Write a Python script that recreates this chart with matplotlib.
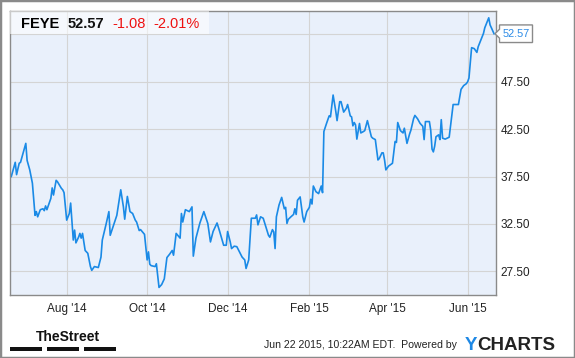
import datetime as dt
import matplotlib
matplotlib.use("Agg")
import matplotlib.pyplot as plt
import matplotlib.dates as mdates
from matplotlib.patches import Rectangle, Polygon

plt.rcParams['font.family'] = ['Liberation Sans', 'DejaVu Sans']

# FEYE daily closes
dates = [
    '2014-06-20', '2014-06-23', '2014-06-24', '2014-06-26', '2014-06-27',
    '2014-07-01', '2014-07-02', '2014-07-04', '2014-07-06', '2014-07-08', '2014-07-09', '2014-07-10',
    '2014-07-12', '2014-07-14', '2014-07-15', '2014-07-16', '2014-07-17', '2014-07-20', '2014-07-21',
    '2014-07-22', '2014-07-24', '2014-07-25', '2014-07-28', '2014-07-29', '2014-07-30',
    '2014-08-01', '2014-08-03', '2014-08-04', '2014-08-06', '2014-08-07', '2014-08-08', '2014-08-10',
    '2014-08-11', '2014-08-12', '2014-08-13', '2014-08-15', '2014-08-17', '2014-08-19', '2014-08-20',
    '2014-08-22', '2014-08-25', '2014-08-27', '2014-08-28', '2014-08-31',
    '2014-09-02', '2014-09-03', '2014-09-06', '2014-09-08', '2014-09-11', '2014-09-13', '2014-09-14',
    '2014-09-16', '2014-09-18', '2014-09-20', '2014-09-22', '2014-09-23', '2014-09-25', '2014-09-26',
    '2014-09-29', '2014-09-30',
    '2014-10-01', '2014-10-02', '2014-10-03', '2014-10-04', '2014-10-07', '2014-10-08', '2014-10-10',
    '2014-10-12', '2014-10-14', '2014-10-16', '2014-10-18', '2014-10-20', '2014-10-21', '2014-10-23',
    '2014-10-26', '2014-10-27', '2014-10-28', '2014-10-30',
    '2014-11-02', '2014-11-04', '2014-11-05', '2014-11-07', '2014-11-10', '2014-11-13', '2014-11-16',
    '2014-11-18', '2014-11-20', '2014-11-23', '2014-11-25', '2014-11-28', '2014-11-30',
    '2014-12-01', '2014-12-03', '2014-12-04', '2014-12-06', '2014-12-08', '2014-12-10', '2014-12-12',
    '2014-12-14', '2014-12-15', '2014-12-17', '2014-12-19', '2014-12-22', '2014-12-23', '2014-12-24',
    '2014-12-26', '2014-12-28', '2014-12-30',
    '2015-01-01', '2015-01-02', '2015-01-04', '2015-01-05', '2015-01-06', '2015-01-07', '2015-01-09',
    '2015-01-11', '2015-01-13', '2015-01-14', '2015-01-15', '2015-01-16', '2015-01-18', '2015-01-20',
    '2015-01-21', '2015-01-22', '2015-01-23', '2015-01-25', '2015-01-27', '2015-01-28', '2015-01-30',
    '2015-02-01', '2015-02-02', '2015-02-03', '2015-02-04', '2015-02-06', '2015-02-08', '2015-02-10',
    '2015-02-11', '2015-02-12', '2015-02-14', '2015-02-16', '2015-02-17', '2015-02-19', '2015-02-21',
    '2015-02-22', '2015-02-24', '2015-02-25', '2015-02-27',
    '2015-03-01', '2015-03-02', '2015-03-04', '2015-03-05', '2015-03-06', '2015-03-07', '2015-03-08',
    '2015-03-09', '2015-03-11', '2015-03-12', '2015-03-14', '2015-03-15', '2015-03-17', '2015-03-20',
    '2015-03-21', '2015-03-23', '2015-03-25', '2015-03-26', '2015-03-28', '2015-03-29', '2015-03-30',
    '2015-03-31',
    '2015-04-02', '2015-04-05', '2015-04-07', '2015-04-08', '2015-04-09', '2015-04-11', '2015-04-13',
    '2015-04-14', '2015-04-16', '2015-04-18', '2015-04-19', '2015-04-21', '2015-04-22', '2015-04-24',
    '2015-04-26', '2015-04-28', '2015-04-29', '2015-04-30',
    '2015-05-03', '2015-05-04', '2015-05-05', '2015-05-06', '2015-05-07', '2015-05-08', '2015-05-10',
    '2015-05-11', '2015-05-12', '2015-05-13', '2015-05-15', '2015-05-18', '2015-05-19', '2015-05-21',
    '2015-05-24', '2015-05-25', '2015-05-27', '2015-05-28', '2015-05-29', '2015-05-31',
    '2015-06-01', '2015-06-02', '2015-06-04', '2015-06-06', '2015-06-08', '2015-06-09', '2015-06-11',
    '2015-06-13', '2015-06-14', '2015-06-17', '2015-06-18', '2015-06-19', '2015-06-21',
]
prices = [
    37.5, 39.0, 37.7, 38.9, 39.0,
    41.0, 39.2, 38.2, 36.8, 33.4, 33.8, 33.25, 34.0, 34.1, 33.9, 34.4, 34.0, 35.2, 36.3,
    35.55, 37.1, 36.95, 36.25, 36.1, 35.8,
    32.9, 33.6, 34.7, 30.8, 31.85, 30.5, 31.1, 31.5, 31.0, 31.5, 29.7, 29.4, 28.0, 27.6,
    28.0, 27.9, 29.0, 30.8, 32.55,
    33.8, 31.3, 32.55, 33.4, 36.1, 34.3, 33.0, 35.4, 33.8, 33.6, 32.9, 32.7, 31.8, 31.9,
    31.4, 30.1,
    28.7, 29.55, 28.25, 28.1, 28.0, 28.3, 25.8, 26.1, 26.7, 28.95, 29.3, 29.7, 29.2, 31.5,
    31.0, 33.6, 32.7, 34.0,
    33.8, 34.3, 29.1, 31.0, 32.6, 33.8, 32.55, 30.6, 31.7, 32.6, 31.7, 30.25, 30.25,
    31.7, 30.6, 29.9, 30.15, 30.1, 29.55, 29.0, 28.7, 27.8, 28.7, 33.1, 33.1, 33.45, 32.4,
    33.25, 33.1, 32.2,
    31.3, 31.1, 31.9, 31.65, 29.9, 33.25, 34.5, 35.3, 34.1, 34.25, 32.55, 32.98, 33.25, 33.5,
    34.1, 33.5, 35.0, 35.35, 33.25, 32.7, 33.8,
    34.25, 35.1, 34.6, 36.5, 35.9, 35.7, 36.5, 35.8, 42.25, 43.1, 43.9, 43.8, 46.1, 44.4,
    43.4, 45.4, 45.4, 44.3,
    44.7, 45.1, 43.9, 43.8, 42.85, 43.2, 42.95, 41.45, 43.1, 42.1, 42.25, 42.35, 43.4, 41.7,
    41.55, 41.4, 39.25, 39.4, 40.0, 40.0, 39.25, 38.2,
    38.6, 38.9, 41.2, 41.1, 43.2, 42.35, 42.1, 42.6, 41.0, 42.0, 42.4, 43.6, 43.95, 43.6,
    43.1, 42.8, 41.4, 43.3,
    43.3, 42.4, 40.4, 40.1, 40.7, 41.7, 41.9, 41.4, 43.5, 41.55, 41.45, 41.65, 42.8, 45.1,
    45.1, 45.1, 46.7, 46.9, 47.1, 47.3,
    47.5, 47.9, 51.1, 51.0, 50.6, 51.2, 51.9, 52.6, 53.2, 54.25, 53.5, 53.2, 52.57,
]
ticker = 'FEYE'
last_price = 52.57
change = -1.08
change_pct = -2.01
y_ticks = [27.5, 32.5, 37.5, 42.5, 47.5, 52.5]
x_ticks = ['2014-08-01', '2014-10-01', '2014-12-01', '2015-02-01', '2015-04-01', '2015-06-01']

W, H = 575, 358
fig = plt.figure(figsize=(W / 100, H / 100), dpi=100)
fig.patch.set_facecolor('white')

def px(x, y):
    # pixel from top-left -> figure fraction
    return x / W, 1 - y / H

ax = fig.add_axes([10.3 / W, 1 - 295 / H, (496 - 10.3) / W, (295 - 10.7) / H])
ax.set_facecolor('#e9f0fb')

d = [dt.datetime.strptime(s, '%Y-%m-%d') for s in dates]
ax.plot(d, prices, color='#1a8ae6', lw=1.2, zorder=2, solid_joinstyle='round')

ax.set_xlim(dt.datetime(2014, 6, 19, 6), dt.datetime(2015, 6, 22, 12))
ax.set_ylim(25, 55)

ax.set_xticks([dt.datetime.strptime(s, '%Y-%m-%d') for s in x_ticks])
ax.xaxis.set_major_formatter(mdates.DateFormatter("%b '%y"))
ax.set_yticks(y_ticks)
# top label sits under the last-price callout
ax.set_yticklabels(['%.2f' % v if v < 52 else '' for v in y_ticks])
ax.yaxis.tick_right()
ax.tick_params(axis='x', length=0, pad=6, labelsize=8.5, colors='#222222')
ax.tick_params(axis='y', length=0, pad=3.5, labelsize=8.5, colors='#222222')
ax.grid(True, color='#d4d4d4', lw=0.8, zorder=1)
ax.set_axisbelow(True)
for s in ax.spines.values():
    s.set_color('#8a8a8a')
    s.set_linewidth(1.0)

# header box
ax.add_patch(Rectangle((0, (295 - 33.5) / (295 - 10.7)), (209 - 10.3) / (496 - 10.3),
                       1 - (295 - 33.5) / (295 - 10.7), transform=ax.transAxes,
                       facecolor='white', alpha=0.55, lw=0, zorder=3))
hy = px(0, 28.5)[1]
fig.text(px(21.5, 0)[0], hy, ticker, fontsize=10.5, fontweight='bold', color='black', va='baseline')
fig.text(px(68, 0)[0], hy, '%.2f' % last_price, fontsize=10.5, fontweight='bold', color='#111111', va='baseline')
fig.text(px(112.5, 0)[0], hy, '%.2f' % change, fontsize=10.5, color='#ee1111', va='baseline')
fig.text(px(153, 0)[0], hy, '%.2f%%' % change_pct, fontsize=10.5, color='#ee1111', va='baseline')

# last price callout, hooked to the last value
fig.canvas.draw()
tx, ty = ax.transAxes.transform((1, 0))[0], ax.transData.transform((mdates.date2num(d[-1]), prices[-1]))[1]
bx0, bx1, hh = tx + 3.5, tx + 36.5, 8.8
pts = [(bx0, ty + hh), (bx1, ty + hh), (bx1, ty - hh), (bx0, ty - hh),
       (bx0, ty - 4.5), (tx - 1, ty), (bx0, ty + 4.5)]
fig.patches.append(Polygon([(x / W, y / H) for x, y in pts], closed=True, transform=fig.transFigure,
                           facecolor='white', edgecolor='#8a8a8a', lw=1.0, zorder=5))
fig.text((bx0 + bx1) / 2 / W, ty / H, '%.2f' % prices[-1], fontsize=7.8, color='#2a8ae6',
         ha='center', va='center', zorder=6)

# footer
fig.text(px(36, 0)[0], px(0, 340.7)[1], 'TheStreet', fontsize=10,
         family=['Liberation Sans Narrow', 'Liberation Sans', 'DejaVu Sans'],
         fontweight='bold', color='#111111', va='baseline')
for x0, x1 in [(10.3, 42), (47, 79), (83.6, 116)]:
    fig.patches.append(Rectangle(px(x0, 350.7), (x1 - x0) / W, 3.4 / H,
                                 transform=fig.transFigure, facecolor='#111111', lw=0))
fig.text(px(264, 0)[0], px(0, 348.5)[1], 'Jun 22 2015, 10:22AM EDT.  Powered by', fontsize=7.6,
         color='#222222', va='baseline')
fig.text(px(465, 0)[0], px(0, 350)[1], 'Y', fontsize=13.5, fontweight='bold', color='#1e88e5', va='baseline')
fig.text(px(477, 0)[0], px(0, 350)[1], 'CHARTS', fontsize=13.5, fontweight='bold', color='#222222', va='baseline')

# outer frame
fig.patches.append(Rectangle((0, 0), 1, 1, transform=fig.transFigure, fill=False,
                             edgecolor='#8a8a8a', lw=2.5))

fig.savefig('out.png', dpi=100)
